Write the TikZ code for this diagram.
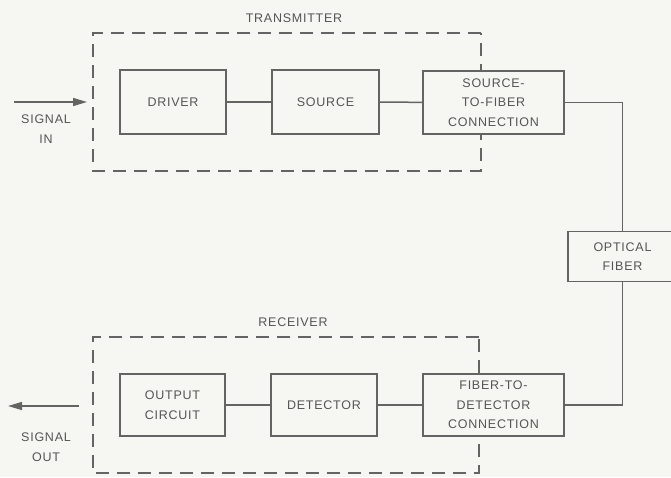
\documentclass[tikz,border=0pt]{standalone}
\usepackage{fontspec}
\setmainfont{Liberation Sans}[LetterSpace=6]
\usetikzlibrary{positioning,arrows.meta}
\definecolor{paper}{RGB}{246,246,243}
\definecolor{ink}{RGB}{100,100,100}
\definecolor{txt}{RGB}{85,85,85}

\begin{document}
\begin{tikzpicture} [x=1pt,y=-1pt,
	every node/.style={text=txt,font=\fontsize{12.5}{19.5}\selectfont,align=center},
	blk/.style={draw=ink,line width=1.5pt,fill=paper,inner sep=0pt},
	grp/.style={draw=ink,line width=1.5pt,dash pattern=on 13pt off 8pt},
	wire/.style={draw=ink,line width=1.5pt},
	sig/.style={wire,-{Triangle[length=14pt,width=8pt]}}]
\clip (0,0) rectangle (671,477);
\fill[paper] (0,0) rectangle (671,477);

\draw[grp] (481,33) -- (93,33) -- (93,171) -- (481,171) -- cycle;
\draw[grp] (479,337) -- (93,337) -- (93,473) -- (479,473) -- cycle;

\node (tx) at (294,18) {TRANSMITTER};
\node (rx) at (293,322) {RECEIVER};

\node[blk,minimum width=106pt,minimum height=64pt] (drv) at (173,102) {DRIVER};
\node[blk,minimum width=107pt,minimum height=64pt] (src) at (325.5,102) {SOURCE};
\node[blk,minimum width=141pt,minimum height=63pt] (sfc) at (493.5,102.5) {SOURCE-\\TO-FIBER\\CONNECTION};

\node[blk,minimum width=109pt,minimum height=50pt] (fib) at (622.5,256.5) {OPTICAL\\FIBER};

\node[blk,minimum width=105pt,minimum height=62pt] (outc) at (172.5,405) {OUTPUT\\CIRCUIT};
\node[blk,minimum width=106pt,minimum height=62pt] (det) at (324,405) {DETECTOR};
\node[blk,minimum width=141pt,minimum height=62pt] (ftd) at (493.5,405) {FIBER-TO-\\DETECTOR\\CONNECTION};

\foreach \a/\b in {drv/src,src/sfc,outc/det,det/ftd}
	\draw[wire] (\a) -- (\b);
\draw[wire] (sfc.east) -| (fib.north);
\draw[wire] (ftd.east) -| (fib.south);

\coordinate (sinA) at (14,102);
\coordinate (sinB) at (87,102);
\coordinate (soutA) at (79,406);
\coordinate (soutB) at (8,406);
\draw[sig] (sinA) -- (sinB);
\draw[sig] (soutA) -- (soutB);
\node (sin) at (46,129) {SIGNAL\\IN};
\node (sout) at (46,447) {SIGNAL\\OUT};

\end{tikzpicture}
\end{document}
